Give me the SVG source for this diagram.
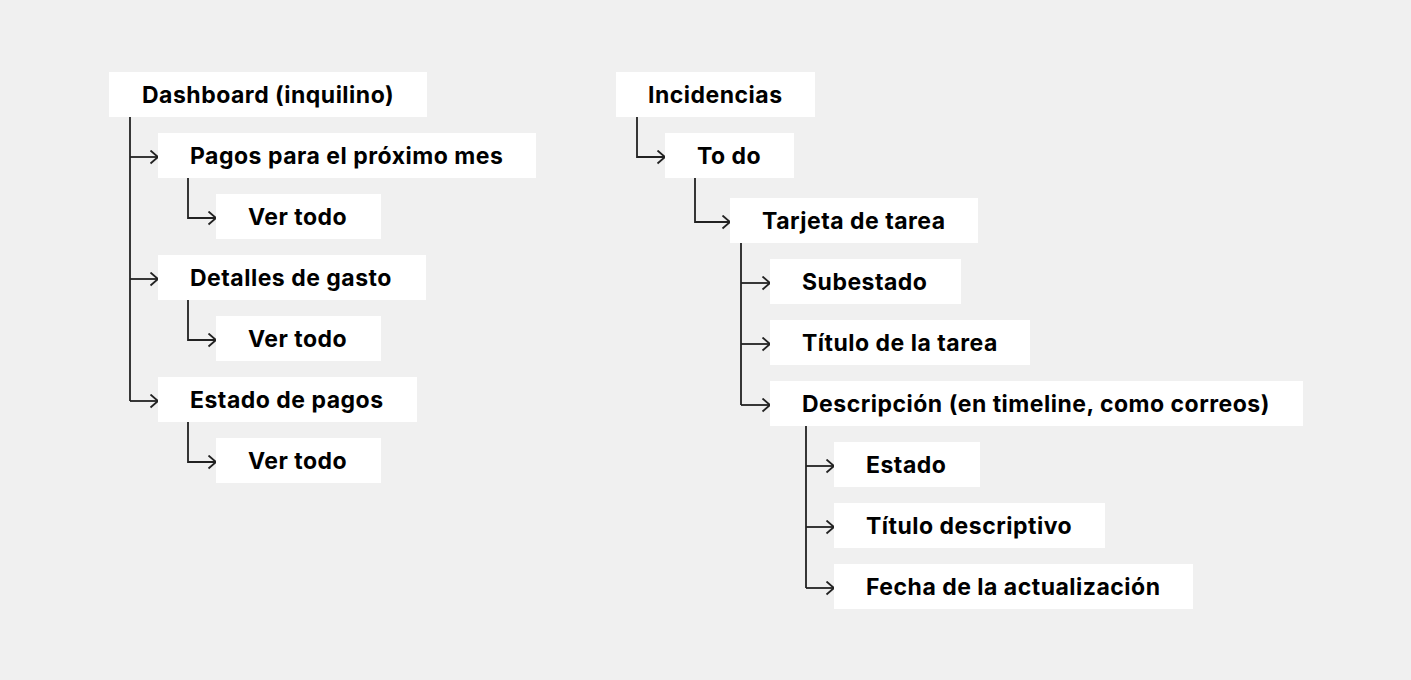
<svg xmlns="http://www.w3.org/2000/svg" width="1411" height="680" viewBox="0 0 1411 680">
<defs>
<style>
.box{fill:#ffffff}
.lbl{font-family:Inter,"Noto Sans","Liberation Sans",sans-serif;font-size:23px;font-weight:700;letter-spacing:0.5px;fill:#000000}
.ln{fill:none;stroke:#222222;stroke-width:1.8}
.ar{fill:none;stroke:#222222;stroke-width:1.8;marker-end:url(#head)}
</style>
<marker id="head" markerUnits="userSpaceOnUse" markerWidth="12" markerHeight="16" viewBox="-1 -1 11 16" refX="8.5" refY="6.5" orient="auto">
<path d="M1,0 L8.5,6.5 L1,13" fill="none" stroke="#222222" stroke-width="1.8"/>
</marker>
</defs>
<rect width="1411" height="680" fill="#f0f0f0"/>
<g id="connectors">
<path class="ln" d="M130,117 V401"/>
<path class="ar" d="M130,157 H158"/>
<path class="ar" d="M130,279 H158"/>
<path class="ar" d="M130,401 H158"/>
<path class="ar" d="M188,178 V218 H216"/>
<path class="ar" d="M188,300 V340 H216"/>
<path class="ar" d="M188,422 V462 H216"/>
<path class="ar" d="M637,117 V157 H665"/>
<path class="ar" d="M695,178 V222 H730"/>
<path class="ln" d="M741,243 V405"/>
<path class="ar" d="M741,283 H770"/>
<path class="ar" d="M741,344 H770"/>
<path class="ar" d="M741,405 H770"/>
<path class="ln" d="M806,426 V588"/>
<path class="ar" d="M806,466 H834"/>
<path class="ar" d="M806,527 H834"/>
<path class="ar" d="M806,588 H834"/>
</g>
<g id="n-dashboard"><rect class="box" x="109" y="72" width="318" height="45"/><text class="lbl" x="142" y="103">Dashboard (inquilino)</text></g>
<g id="n-pagos"><rect class="box" x="158" y="133" width="378" height="45"/><text class="lbl" x="190" y="164">Pagos para el próximo mes</text></g>
<g id="n-vertodo1"><rect class="box" x="216" y="194" width="165" height="45"/><text class="lbl" x="248" y="225">Ver todo</text></g>
<g id="n-detalles"><rect class="box" x="158" y="255" width="268" height="45"/><text class="lbl" x="190" y="286">Detalles de gasto</text></g>
<g id="n-vertodo2"><rect class="box" x="216" y="316" width="165" height="45"/><text class="lbl" x="248" y="347">Ver todo</text></g>
<g id="n-estadopagos"><rect class="box" x="158" y="377" width="259" height="45"/><text class="lbl" x="190" y="408">Estado de pagos</text></g>
<g id="n-vertodo3"><rect class="box" x="216" y="438" width="165" height="45"/><text class="lbl" x="248" y="469">Ver todo</text></g>
<g id="n-incidencias"><rect class="box" x="616" y="72" width="199" height="45"/><text class="lbl" x="648" y="103">Incidencias</text></g>
<g id="n-todo"><rect class="box" x="665" y="133" width="129" height="45"/><text class="lbl" x="697" y="164">To do</text></g>
<g id="n-tarjeta"><rect class="box" x="730" y="198" width="248" height="45"/><text class="lbl" x="762" y="229">Tarjeta de tarea</text></g>
<g id="n-subestado"><rect class="box" x="770" y="259" width="191" height="45"/><text class="lbl" x="802" y="290">Subestado</text></g>
<g id="n-titulotarea"><rect class="box" x="770" y="320" width="260" height="45"/><text class="lbl" x="802" y="351">Título de la tarea</text></g>
<g id="n-descripcion"><rect class="box" x="770" y="381" width="533" height="45"/><text class="lbl" x="802" y="412">Descripción (en timeline, como correos)</text></g>
<g id="n-estado"><rect class="box" x="834" y="442" width="146" height="45"/><text class="lbl" x="866" y="473">Estado</text></g>
<g id="n-titulodesc"><rect class="box" x="834" y="503" width="271" height="45"/><text class="lbl" x="866" y="534">Título descriptivo</text></g>
<g id="n-fecha"><rect class="box" x="834" y="564" width="359" height="45"/><text class="lbl" x="866" y="595">Fecha de la actualización</text></g>
</svg>
